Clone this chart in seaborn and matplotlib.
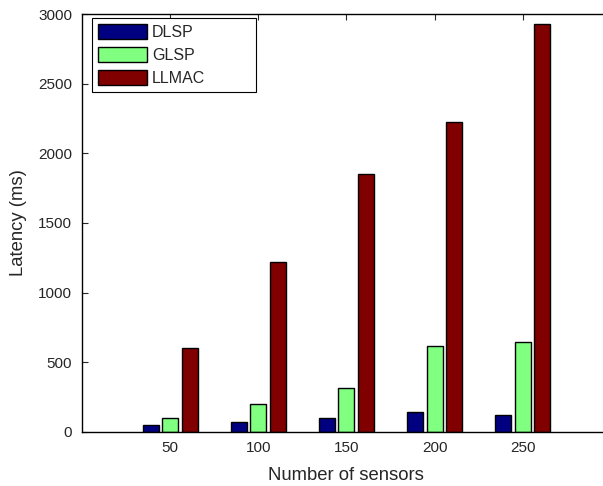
import pandas as pd
import matplotlib
matplotlib.use("Agg")
import matplotlib.pyplot as plt
import seaborn as sns

# values
sensors = ["50", "100", "150", "200", "250"]
dlsp = [46, 67, 96, 144, 120]
glsp = [96, 202, 311, 617, 646]
llmac = [603, 1222, 1855, 2225, 2927]

methods = ["DLSP", "GLSP", "LLMAC"]
colors = ["#000080", "#80FF80", "#800000"]

df = pd.DataFrame({
    "sensors": sensors * 3,
    "latency": dlsp + glsp + llmac,
    "method": [m for m in methods for _ in sensors],
})

sns.set_style("ticks")
plt.rcParams["font.family"] = ["Liberation Sans", "DejaVu Sans"]

fig = plt.figure(figsize=(6.03, 4.86), dpi=100)
ax = fig.add_axes([0.136, 0.1117, 0.877, 0.859])

sns.barplot(
    data=df, x="sensors", y="latency", hue="method",
    order=sensors, hue_order=methods, palette=colors,
    width=0.667, gap=0.185, edgecolor="black", linewidth=1.0,
    saturation=1, ax=ax,
)

ax.set_xlim(-1, 5)
ax.set_ylim(0, 3000)
ax.set_yticks(range(0, 3001, 500))
ax.set_xlabel("Number of sensors", fontsize=13.3, labelpad=8)
ax.set_ylabel("Latency (ms)", fontsize=13.3, labelpad=8)
ax.tick_params(direction="in", labelsize=11, top=True, right=True,
               length=4, width=0.8, pad=7)
for s in ax.spines.values():
    s.set_linewidth(1.0)
    s.set_color("black")

leg = ax.legend(
    loc="upper left", bbox_to_anchor=(0.0183, 0.0, 0.311, 0.992), mode="expand",
    borderaxespad=0, fontsize=11.5, frameon=True, fancybox=False,
    edgecolor="black", framealpha=1, handlelength=3.06, handleheight=1.05,
    handletextpad=0.33, labelspacing=0.45, borderpad=0.4,
)
leg.get_frame().set_linewidth(0.8)

fig.savefig("out.png", dpi=100)
